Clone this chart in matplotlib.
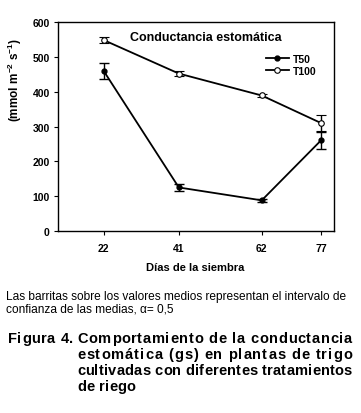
import matplotlib
matplotlib.use("Agg")
import matplotlib.pyplot as plt
from matplotlib.lines import Line2D
from matplotlib import font_manager
from matplotlib.ft2font import FT2Font, LoadFlags

plt.rcParams['font.family'] = ['Liberation Sans', 'DejaVu Sans']
plt.rcParams['mathtext.fontset'] = 'custom'
plt.rcParams['mathtext.bf'] = 'Liberation Sans:bold'
plt.rcParams['mathtext.rm'] = 'Liberation Sans:bold'
plt.rcParams['mathtext.default'] = 'bf'

# data
days = [22, 41, 62, 77]
t50 = [459, 125, 88, 260]
t50_err = [23, 10, 4, 24]
t100 = [548, 452, 389, 310]
t100_err = [9, 8, 4, 23]
y_ticks = [0, 100, 200, 300, 400, 500, 600]

W, H = 361, 414


def fx(px):
    return px / W


def fy(py):
    return 1 - py / H


fig = plt.figure(figsize=(W / 100, H / 100), dpi=100)
ax = fig.add_axes([fx(58), fy(232), fx(334) - fx(58), fy(23) - fy(232)])

ax.errorbar(days, t50, yerr=t50_err, color='black', marker='o', markersize=3.5,
            markerfacecolor='black', markeredgecolor='black', linewidth=1.3,
            elinewidth=1.0, capsize=3.5, capthick=1.0, zorder=3)
ax.errorbar(days, t100, yerr=t100_err, color='black', marker='o', markersize=4,
            markerfacecolor='white', markeredgecolor='black', markeredgewidth=0.8,
            linewidth=1.3, elinewidth=1.0, capsize=3.5, capthick=1.0, zorder=3)

ax.set_xlim(10.4, 80.3)
ax.set_ylim(0, 600)
ax.set_xticks(days)
ax.set_yticks(y_ticks)
for s in ax.spines.values():
    s.set_linewidth(1.0)
ax.tick_params(axis='both', direction='out', length=3, width=0.8, pad=3,
               labelsize=7.5, top=False, right=False)
for lab in ax.get_xticklabels() + ax.get_yticklabels():
    lab.set_fontweight('bold')
ax.tick_params(axis='x', pad=6)

handles = [Line2D([], [], color='black', lw=1.3, marker='o', markersize=3.5,
                  markerfacecolor='black'),
           Line2D([], [], color='black', lw=1.3, marker='o', markersize=4,
                  markerfacecolor='white', markeredgewidth=0.8)]
ax.legend(handles, ['T50', 'T100'], loc='upper left',
          bbox_to_anchor=(fx(266), fy(55)), bbox_transform=fig.transFigure,
          frameon=False, prop={'size': 7.5, 'weight': 'bold'}, handlelength=2.2,
          handletextpad=0.4, labelspacing=0.2, borderpad=0, borderaxespad=0)

fig.text(fx(206), fy(38), 'Conductancia estomática', ha='center', va='center',
         fontsize=9, fontweight='bold')
fig.text(fx(195), fy(268), 'Días de la siembra', ha='center', va='center',
         fontsize=8, fontweight='bold')
fig.text(fx(15), fy(80), r'(mmol m$^{-2}$ s$^{-1}$)', ha='center', va='center',
         rotation=90, fontsize=8.5, fontweight='bold')

# note under the chart
fig.text(fx(6), fy(300), 'Las barritas sobre los valores medios representan el intervalo de',
         ha='left', va='baseline', fontsize=8.6)
fig.text(fx(6), fy(313), 'confianza de las medias, \u03b1= 0,5',
         ha='left', va='baseline', fontsize=8.6)

# figure caption: spread letters so each line fills the column
CAP_SIZE = 10.5
bold_path = font_manager.findfont(
    font_manager.FontProperties(family='Liberation Sans', weight='bold'))
ft = FT2Font(bold_path)
ft.set_size(CAP_SIZE, 100)


def advances(line):
    out = []
    for ch in line:
        g = ft.load_char(ord(ch), flags=LoadFlags.NO_HINTING)
        out.append(g.linearHoriAdvance / 65536)
    return out


def spread(line, x0, y, x1=None, track=None):
    widths = advances(line)
    if track is None:
        # last glyph: count its advance so the right edge lands near x1
        track = (x1 - x0 - sum(widths)) / (len(line) - 1)
    x = x0
    for ch, w in zip(line, widths):
        if ch != ' ':
            fig.text(fx(x), fy(y), ch, fontsize=CAP_SIZE, fontweight='bold',
                     va='baseline')
        x += w + track
    return track


spread('Figura 4.', 8, 343, x1=73)
spread('Comportamiento de la conductancia', 77, 343, x1=352)
spread('estomática (gs) en plantas de trigo', 77, 359, x1=352)
tr = spread('cultivadas con diferentes tratamientos', 77, 375, x1=352)
spread('de riego', 77, 391, track=tr)

fig.savefig('out.png', dpi=100)
